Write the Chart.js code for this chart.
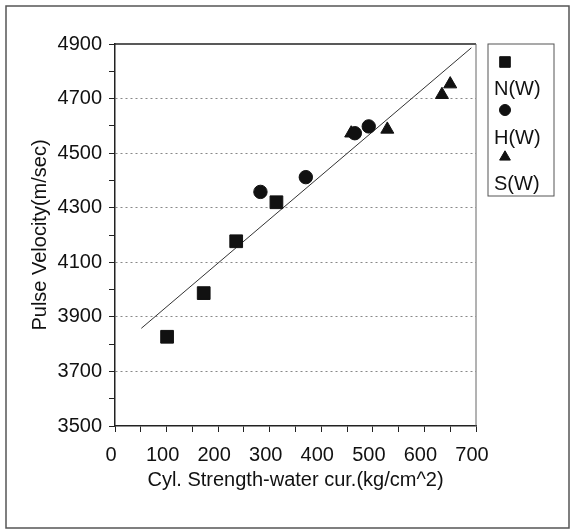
<!DOCTYPE html>
<html>
<head>
<meta charset="utf-8">
<script src="https://cdn.jsdelivr.net/npm/chart.js@4/dist/chart.umd.min.js"></script>
<style>
  html, body { margin: 0; padding: 0; background: #fff; }
  #wrap { width: 571px; height: 532px; }
</style>
</head>
<body>
<div id="wrap"><canvas id="c" width="571" height="532"></canvas></div>
<script>
// ---- data ----
const seriesNames = ['N(W)', 'H(W)', 'S(W)'];
const nX = [101, 172, 235, 313];
const nY = [3827, 3987, 4177, 4320];
const hX = [282, 370, 465, 492];
const hY = [4358, 4412, 4573, 4598];
const sX = [458, 528, 634, 650];
const sY = [4573, 4587, 4714, 4753];
const trendX = [51, 691];
const trendY = [3858, 4886];
const xTicksMin = 0, xTicksMax = 700, xStep = 50, xLabelStep = 100;
const yTicksMin = 3500, yTicksMax = 4900, yStep = 100, yLabelStep = 200;
const xTitle = 'Cyl. Strength-water cur.(kg/cm^2)';
const yTitle = 'Pulse Velocity(m/sec)';

const pts = (xs, ys) => xs.map((x, i) => ({ x: x, y: ys[i] }));
const FONT = 'Liberation Sans, Arial, sans-serif';
const INK = '#111';
const isYMajor = v => (v - yTicksMin) % yLabelStep === 0;

const whiteBg = {
  id: 'whiteBg',
  beforeDraw(chart) {
    const ctx = chart.ctx;
    ctx.save();
    ctx.fillStyle = '#fff';
    ctx.fillRect(0, 0, chart.width, chart.height);
    ctx.restore();
  }
};

const frames = {
  id: 'frames',
  afterDraw(chart) {
    const ctx = chart.ctx;
    const a = chart.chartArea;
    ctx.save();
    // outer frame
    ctx.strokeStyle = '#555';
    ctx.lineWidth = 1.5;
    ctx.strokeRect(6, 6, 563, 522);
    // plot box top and right
    ctx.lineWidth = 1.5;
    ctx.strokeStyle = '#222';
    ctx.beginPath();
    ctx.moveTo(a.left, a.top);
    ctx.lineTo(a.right, a.top);
    ctx.stroke();
    ctx.strokeStyle = '#666';
    ctx.lineWidth = 1;
    ctx.beginPath();
    ctx.moveTo(a.right, a.top);
    ctx.lineTo(a.right, a.bottom);
    ctx.stroke();
    // legend
    const lx = 488, ly = 44, lw = 66, lh = 152;
    ctx.strokeStyle = '#555';
    ctx.lineWidth = 1;
    ctx.strokeRect(lx, ly, lw, lh);
    const items = chart.data.datasets.filter(d => d.isSeries);
    const markerY = [62, 110, 157];
    const textY = [89, 138, 184];
    items.forEach((d, i) => {
      ctx.fillStyle = INK;
      ctx.strokeStyle = INK;
      Chart.helpers.drawPoint(ctx, { pointStyle: d.pointStyle, radius: d.legendRadius, rotation: 0, borderWidth: 1 }, 505, markerY[i]);
      ctx.fillStyle = INK;
      ctx.font = '20px ' + FONT;
      ctx.textAlign = 'left';
      ctx.textBaseline = 'middle';
      ctx.fillText(d.label, 494, textY[i]);
    });
    ctx.restore();
  }
};

const seriesDefaults = { backgroundColor: INK, borderColor: INK, borderWidth: 1, isSeries: true, order: 0 };

new Chart(document.getElementById('c'), {
  type: 'scatter',
  data: {
    datasets: [
      Object.assign({ label: seriesNames[0], data: pts(nX, nY), pointStyle: 'rect', pointRadius: 9, legendRadius: 7.5 }, seriesDefaults),
      Object.assign({ label: seriesNames[1], data: pts(hX, hY), pointStyle: 'circle', pointRadius: 6.7, legendRadius: 5.5 }, seriesDefaults),
      Object.assign({ label: seriesNames[2], data: pts(sX, sY), pointStyle: 'triangle', pointRadius: 7.5, legendRadius: 6.2 }, seriesDefaults),
      { label: 'trend', data: pts(trendX, trendY), showLine: true, pointRadius: 0, borderColor: '#333', borderWidth: 1, fill: false, order: 1, isSeries: false }
    ]
  },
  options: {
    responsive: false,
    animation: false,
    layout: { padding: { top: 44, right: 95, bottom: 0, left: 0 } },
    plugins: { legend: { display: false }, tooltip: { enabled: false } },
    scales: {
      x: {
        type: 'linear',
        min: xTicksMin, max: xTicksMax,
        afterFit(s) { s.height = 106; },
        ticks: {
          stepSize: xStep, autoSkip: false, maxRotation: 0, minRotation: 0,
          padding: 11, labelOffset: -4, color: INK,
          font: { family: FONT, size: 20 },
          callback: v => ((v - xTicksMin) % xLabelStep === 0 ? String(v) : '')
        },
        grid: { drawOnChartArea: false, drawTicks: true, tickLength: 6, tickColor: '#222', tickWidth: 1 },
        border: { display: true, color: '#222', width: 1.5 },
        title: { display: true, text: xTitle, color: INK, font: { family: FONT, size: 20 }, padding: { top: 0, bottom: 40 } }
      },
      y: {
        type: 'linear',
        min: yTicksMin, max: yTicksMax,
        afterFit(s) { s.width = 115; },
        ticks: {
          stepSize: yStep, autoSkip: false, padding: 7, color: INK,
          font: { family: FONT, size: 20 },
          callback: v => (isYMajor(v) ? String(v) : '')
        },
        grid: {
          drawTicks: true, tickLength: 6, tickColor: '#222', tickWidth: 1, lineWidth: 1,
          color: c => {
            const v = c.tick ? c.tick.value : null;
            return (v !== null && isYMajor(v) && v !== yTicksMin && v !== yTicksMax) ? '#888' : 'rgba(0,0,0,0)';
          }
        },
        border: { display: true, color: '#222', width: 1.5, dash: [2, 3] },
        title: { display: true, text: yTitle, color: INK, font: { family: FONT, size: 20 }, padding: { top: 28, bottom: 0 } }
      }
    }
  },
  plugins: [whiteBg, frames]
});
</script>
</body>
</html>
